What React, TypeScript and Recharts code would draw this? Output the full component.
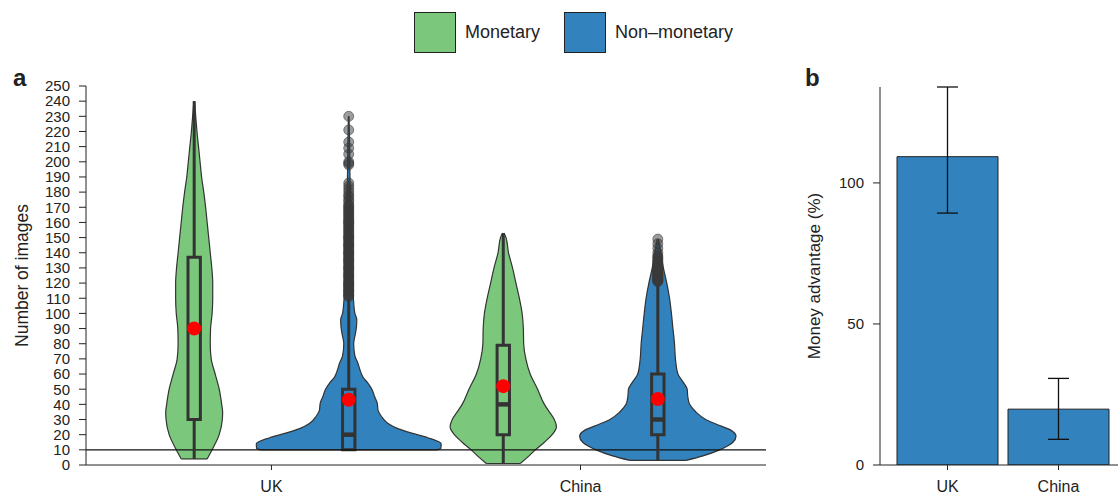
import React from 'react';
import {
  ComposedChart,
  Area,
  XAxis,
  YAxis,
  ReferenceLine,
  ReferenceArea,
  Scatter,
  BarChart,
  Bar,
  ErrorBar,
} from 'recharts';

// ---------- data ----------
const categories = ['UK', 'China'];
const groups = ['Monetary', 'Non–monetary'];
const groupColors = ['#7bc87c', '#3182bd'];

const yTicksA = [0, 10, 20, 30, 40, 50, 60, 70, 80, 90, 100, 110, 120, 130, 140, 150, 160, 170, 180, 190, 200, 210, 220, 230, 240, 250];

// violin profiles: levels (number of images) and half-widths (category units)
const ukMonetaryLevels = [4, 10, 20, 30, 35, 40, 50, 60, 70, 80, 90, 100, 110, 120, 130, 140, 150, 160, 170, 180, 190, 200, 210, 220, 230, 240];
const ukMonetaryWidths = [0.042, 0.058, 0.081, 0.091, 0.092, 0.089, 0.081, 0.068, 0.055, 0.052, 0.053, 0.058, 0.06, 0.06, 0.057, 0.052, 0.047, 0.042, 0.037, 0.031, 0.024, 0.019, 0.014, 0.009, 0.005, 0.001];

const ukNonMonetaryLevels = [10, 11, 14, 18, 21, 24, 27.5, 32, 36, 41, 45, 50, 54, 58, 63, 67, 72, 80, 86, 91, 96, 100, 110, 130, 150, 170, 190, 210, 230];
const ukNonMonetaryWidths = [0.285, 0.298, 0.299, 0.256, 0.204, 0.159, 0.126, 0.106, 0.095, 0.092, 0.084, 0.075, 0.062, 0.046, 0.036, 0.03, 0.02, 0.016, 0.021, 0.025, 0.026, 0.02, 0.015, 0.011, 0.009, 0.006, 0.004, 0.003, 0.001];

const chinaMonetaryLevels = [1, 5, 10, 15, 20, 25, 30, 35, 40, 50, 60, 70, 80, 90, 100, 110, 120, 130, 140, 150, 153];
const chinaMonetaryWidths = [0.055, 0.078, 0.104, 0.133, 0.158, 0.172, 0.165, 0.149, 0.133, 0.111, 0.087, 0.073, 0.066, 0.065, 0.061, 0.052, 0.041, 0.03, 0.017, 0.009, 0.002];

const chinaNonMonetaryLevels = [3, 6, 10, 15, 19, 23, 27, 30, 35, 40, 45, 50, 55, 60, 70, 80, 90, 100, 110, 120, 130, 140, 149];
const chinaNonMonetaryWidths = [0.091, 0.146, 0.2, 0.243, 0.253, 0.236, 0.188, 0.155, 0.123, 0.103, 0.097, 0.095, 0.081, 0.065, 0.057, 0.054, 0.049, 0.044, 0.038, 0.029, 0.018, 0.01, 0.002];

// box statistics, order: UK-Monetary, UK-Non-monetary, China-Monetary, China-Non-monetary
const boxQ1 = [30, 10, 20, 20];
const boxQ3 = [137, 50, 79, 60];
const boxMedian: (number | null)[] = [null, 20, 40, 30];
const boxMean = [90, 43, 52, 43.5];
const whiskerLow = [4, 10, 1, 3];
const whiskerHigh = [240, 110, 153, 120];

const ukNonMonetaryOutliers = [
  111, 112, 112, 113, 114, 115, 115, 116, 117, 118, 118, 119, 120, 120, 121, 122, 123, 124, 125, 125, 126, 127, 128, 129,
  130, 130, 131, 132, 133, 134, 135, 135, 136, 137, 138, 139, 140, 140, 141, 142, 143, 144, 145, 145, 146, 147, 148, 149,
  150, 150, 151, 152, 153, 154, 155, 156, 157, 158, 159, 160, 160, 161, 162, 163, 164, 165, 166, 167, 168, 169, 170,
  171, 172, 174, 175, 177, 178, 180, 182, 184, 186, 198, 199, 200, 205, 209, 213, 221, 230,
];
const chinaNonMonetaryOutliers = [
  121, 121, 122, 122, 123, 123, 124, 124, 125, 125, 126, 126, 127, 127, 128, 128, 129, 130, 130, 131, 132, 133, 134, 135,
  136, 137, 138, 140, 143, 146, 149,
];

// panel b
const moneyAdvantage = [109.3, 19.8];
const advantageLow = [89.3, 9.1];
const advantageHigh = [134, 30.7];
const yTicksB = [0, 50, 100];

// ---------- derived ----------
const DODGE = 0.25;
const BOX_HALF = 0.02;
const centerOf = (cat: number, group: number) => cat + (group === 0 ? -DODGE : DODGE);

const violins = [
  { cat: 0, group: 0, levels: ukMonetaryLevels, widths: ukMonetaryWidths, outliers: [] as number[] },
  { cat: 0, group: 1, levels: ukNonMonetaryLevels, widths: ukNonMonetaryWidths, outliers: ukNonMonetaryOutliers },
  { cat: 1, group: 0, levels: chinaMonetaryLevels, widths: chinaMonetaryWidths, outliers: [] as number[] },
  { cat: 1, group: 1, levels: chinaNonMonetaryLevels, widths: chinaNonMonetaryWidths, outliers: chinaNonMonetaryOutliers },
];

const allLevels = Array.from(new Set(violins.flatMap((v) => v.levels))).sort((a, b) => a - b);
const violinRows = allLevels.map((level) => {
  const row: any = { v: level };
  violins.forEach((vi, k) => {
    const i = vi.levels.indexOf(level);
    const c = centerOf(vi.cat, vi.group);
    row['violin' + k] = i >= 0 ? [c - vi.widths[i], c + vi.widths[i]] : [null, null];
  });
  return row;
});

const outlierPoints = violins.flatMap((vi) =>
  vi.outliers.map((val) => ({ x: centerOf(vi.cat, vi.group), v: val }))
);
const meanPoints = violins.map((vi, k) => ({ x: centerOf(vi.cat, vi.group), v: boxMean[k] }));

const barRows = categories.map((c, i) => ({
  name: c,
  value: moneyAdvantage[i],
  err: [moneyAdvantage[i] - advantageLow[i], advantageHigh[i] - moneyAdvantage[i]],
}));

const FONT = '"Liberation Sans", Arial, Helvetica, sans-serif';
const INK = '#222';
const BOX_INK = '#333';

const OutlierDot = (p: any) => (
  <circle cx={p.cx} cy={p.cy} r={5} fill="#3a3a3a" fillOpacity={0.5} stroke="#3a3a3a" strokeOpacity={0.55} strokeWidth={1} />
);
const MeanDot = (p: any) => <circle cx={p.cx} cy={p.cy} r={7} fill="#ff0000" />;

export default function App() {
  return (
    <div
      style={{
        position: 'absolute',
        left: 0,
        top: 0,
        width: 1118,
        height: 496,
        overflow: 'hidden',
        background: '#fff',
        fontFamily: FONT,
        color: INK,
      }}
    >
      {/* legend */}
      {groups.map((g, i) => (
        <React.Fragment key={g}>
          <div
            style={{
              position: 'absolute',
              left: i === 0 ? 414 : 564,
              top: 12,
              width: 42,
              height: 41,
              boxSizing: 'border-box',
              background: groupColors[i],
              border: '1.5px solid #222',
            }}
          />
          <div
            style={{
              position: 'absolute',
              left: i === 0 ? 465 : 615,
              top: 12,
              height: 41,
              lineHeight: '41px',
              fontSize: 18,
              whiteSpace: 'nowrap',
            }}
          >
            {g}
          </div>
        </React.Fragment>
      ))}

      <div style={{ position: 'absolute', left: 13, top: 64, fontSize: 24, fontWeight: 700, lineHeight: '28px' }}>a</div>
      <div style={{ position: 'absolute', left: 805, top: 64, fontSize: 24, fontWeight: 700, lineHeight: '28px' }}>b</div>

      {/* panel a */}
      <div style={{ position: 'absolute', left: 0, top: 0 }}>
        <ComposedChart
          width={800}
          height={496}
          layout="vertical"
          data={violinRows}
          margin={{ top: 86, right: 34, bottom: 0, left: 0 }}
        >
          <XAxis
            type="number"
            dataKey="x"
            domain={[-0.6, 1.6]}
            ticks={[0, 1]}
            tickFormatter={(t: number) => categories[t] ?? ''}
            height={31}
            tickSize={5}
            tickMargin={11}
            tick={{ fontSize: 16, fill: INK }}
            axisLine={{ stroke: INK }}
            tickLine={{ stroke: INK }}
            allowDataOverflow
          />
          <YAxis
            type="number"
            dataKey="v"
            reversed
            domain={[0, 250]}
            ticks={yTicksA}
            interval={0}
            width={86}
            tickSize={7}
            tickMargin={9}
            tick={{ fontSize: 15, fill: INK }}
            axisLine={{ stroke: INK }}
            tickLine={{ stroke: INK }}
            allowDataOverflow
            label={{
              value: 'Number of images',
              angle: -90,
              position: 'insideLeft',
              offset: 22,
              style: { textAnchor: 'middle', fontSize: 17.5, fill: INK },
            }}
          />
          {violins.map((vi, k) => (
            <Area
              key={'violin' + k}
              dataKey={'violin' + k}
              type="monotone"
              connectNulls
              fill={groupColors[vi.group]}
              fillOpacity={1}
              stroke={BOX_INK}
              strokeWidth={1.2}
              isAnimationActive={false}
              dot={false}
              activeDot={false}
            />
          ))}
          {violins.map((vi, k) => {
            const c = centerOf(vi.cat, vi.group);
            return (
              <ReferenceLine
                key={'bottom' + k}
                segment={[
                  { x: c - vi.widths[0], y: vi.levels[0] },
                  { x: c + vi.widths[0], y: vi.levels[0] },
                ]}
                stroke={BOX_INK}
                strokeWidth={1.2}
              />
            );
          })}
          <ReferenceLine y={10} stroke="#111" strokeWidth={1.2} />
          {violins.map((vi, k) => {
            const c = centerOf(vi.cat, vi.group);
            return (
              <ReferenceLine
                key={'wl' + k}
                segment={[
                  { x: c, y: whiskerLow[k] },
                  { x: c, y: boxQ1[k] },
                ]}
                stroke={BOX_INK}
                strokeWidth={3}
              />
            );
          })}
          {violins.map((vi, k) => {
            const c = centerOf(vi.cat, vi.group);
            return (
              <ReferenceLine
                key={'wh' + k}
                segment={[
                  { x: c, y: boxQ3[k] },
                  { x: c, y: whiskerHigh[k] },
                ]}
                stroke={BOX_INK}
                strokeWidth={3}
              />
            );
          })}
          {violins.map((vi, k) => {
            const c = centerOf(vi.cat, vi.group);
            return (
              <ReferenceArea
                key={'box' + k}
                x1={c - BOX_HALF}
                x2={c + BOX_HALF}
                y1={boxQ1[k]}
                y2={boxQ3[k]}
                fill="none"
                fillOpacity={0}
                stroke={BOX_INK}
                strokeWidth={3}
              />
            );
          })}
          {violins.map((vi, k) => {
            const med = boxMedian[k];
            if (med == null) return null;
            const c = centerOf(vi.cat, vi.group);
            return (
              <ReferenceLine
                key={'med' + k}
                segment={[
                  { x: c - BOX_HALF, y: med },
                  { x: c + BOX_HALF, y: med },
                ]}
                stroke={BOX_INK}
                strokeWidth={4.5}
              />
            );
          })}
          <Scatter data={outlierPoints} shape={OutlierDot} isAnimationActive={false} />
          <Scatter data={meanPoints} shape={MeanDot} isAnimationActive={false} />
        </ComposedChart>
      </div>

      {/* panel b */}
      <div style={{ position: 'absolute', left: 800, top: 0 }}>
        <BarChart
          width={325}
          height={496}
          data={barRows}
          margin={{ top: 87, right: 0, bottom: 0, left: 0 }}
          barSize={101}
        >
          <XAxis
            dataKey="name"
            height={31}
            padding={{ left: 12, right: 11 }}
            tickSize={5}
            tickMargin={11}
            tick={{ fontSize: 16, fill: INK }}
            axisLine={{ stroke: INK }}
            tickLine={{ stroke: INK }}
          />
          <YAxis
            type="number"
            domain={[0, 134]}
            ticks={yTicksB}
            width={80}
            tickSize={7}
            tickMargin={9}
            tick={{ fontSize: 15, fill: INK }}
            axisLine={{ stroke: INK }}
            tickLine={{ stroke: INK }}
            allowDataOverflow
            label={{
              value: 'Money advantage (%)',
              angle: -90,
              position: 'insideLeft',
              offset: 14,
              style: { textAnchor: 'middle', fontSize: 17, fill: INK },
            }}
          />
          <Bar dataKey="value" fill={groupColors[1]} stroke="#222" strokeWidth={1} isAnimationActive={false}>
            <ErrorBar dataKey="err" width={10.5} stroke="#111" strokeWidth={1.3} direction="y" isAnimationActive={false} />
          </Bar>
        </BarChart>
      </div>
    </div>
  );
}
